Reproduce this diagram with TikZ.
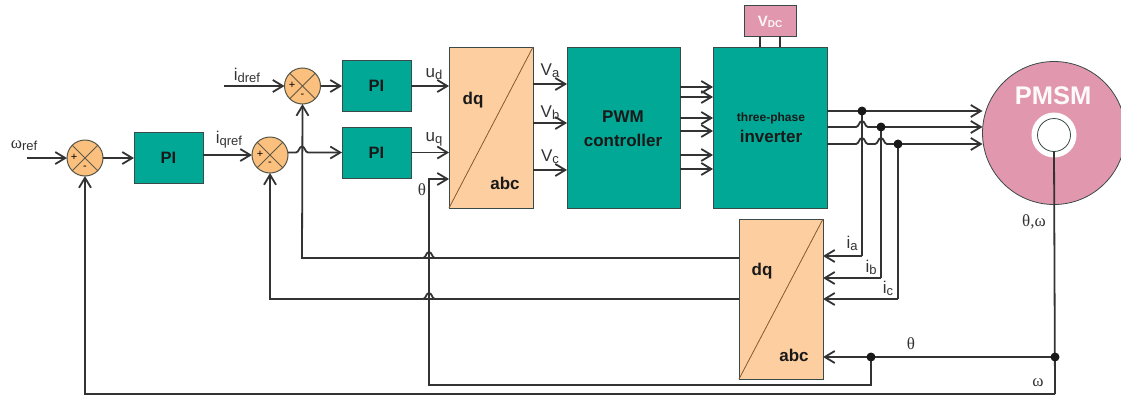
\documentclass[tikz,border=0pt]{standalone}
\usepackage{fontspec}
\setmainfont{Liberation Sans}
\newfontfamily\grk{Liberation Serif}
\usetikzlibrary{arrows.meta}
\definecolor{teal}{HTML}{00A895}
\definecolor{peach}{HTML}{FDCFA0}
\definecolor{sumc}{HTML}{FBBF7E}
\definecolor{rose}{HTML}{E197AE}
\definecolor{ink}{HTML}{333333}
\definecolor{edge}{HTML}{3A4A48}
\newcommand{\lab}[2]{{\fontsize{17}{17}\selectfont #1}\raisebox{-2pt}{\fontsize{13}{13}\selectfont #2}}
\newcommand{\fsz}[1]{\fontsize{#1}{#1}\selectfont}
\newcommand{\jump}[2]{-- ({#1-6},#2) .. controls ({#1-3},#2) and ({#1-3},{#2-6}) .. (#1,{#2-6}) .. controls ({#1+3},{#2-6}) and ({#1+3},#2) .. ({#1+6},#2)}
\tikzset{
  x=1pt,y=-1pt,
  blk/.style={draw=edge,line width=1pt,fill=teal,inner sep=0pt,outer sep=0pt,font=\bfseries\fsz{17},text=black!90,align=center},
  tbox/.style={draw=edge,line width=1pt,fill=peach,inner sep=0pt,outer sep=0pt,minimum width=84pt,minimum height=161pt},
  sumj/.style={circle,draw=edge!80!brown,line width=1pt,fill=sumc,inner sep=0pt,outer sep=0pt,minimum size=36pt,
    path picture={\draw[edge!70!brown,line width=.9pt] (path picture bounding box.north west)--(path picture bounding box.south east)
      (path picture bounding box.north east)--(path picture bounding box.south west);}},
  sgn/.style={inner sep=0pt,font=\fsz{11},text=black},
  txt/.style={inner sep=0pt,text=ink,align=center},
  bt/.style={inner sep=0pt,font=\bfseries\fsz{17},text=black!90},
  wire/.style={draw=ink,line width=1.8pt},
  arr/.style={wire,-{Straight Barb[length=10pt,width=12pt,line width=1.8pt]}},
  dot/.style={circle,fill=black!90,inner sep=0pt,minimum size=9pt}
}
\begin{document}
\begin{tikzpicture}
\useasboundingbox (0,0) rectangle (1121,399);
% blocks
\node[sumj] (s1) at (85,158) {};
\node[sumj] (sq) at (270,155) {};
\node[sumj] (sd) at (302.5,86) {};
\node[blk,minimum width=69pt,minimum height=51pt] (pi1) at (168.5,157.5) {\fsz{16.5}PI};
\node[blk,minimum width=69pt,minimum height=51pt] (pid) at (376.5,86) {\fsz{16.5}PI};
\node[blk,minimum width=69pt,minimum height=51pt] (piq) at (376.5,152.5) {\fsz{16.5}PI};
\node[tbox] (t1) at (491,127.5) {};
\node[blk,minimum width=113pt,minimum height=161pt] (pwm) at (623.5,127.5) {};
\node[blk,minimum width=114pt,minimum height=161pt] (inv) at (770,127.5) {};
\node[blk,fill=rose,minimum width=52pt,minimum height=31pt] (vdc) at (770,20.5) {};
\node[tbox,minimum height=160pt] (t2) at (781,299) {};
\node[circle,draw=edge,line width=.8pt,fill=rose,inner sep=0pt,outer sep=0pt,minimum size=143pt] (pmsm) at (1054,133) {};
\node[circle,fill=white,inner sep=0pt,outer sep=0pt,minimum size=45pt] (ring) at (1054,135) {};
\node[circle,draw=edge,line width=.8pt,fill=white,inner sep=0pt,minimum size=33pt] (hub) at (1054,135) {};
% diagonals
\draw[draw=brown!70!black,line width=.8pt] (t1.south west) -- (t1.north east);
\draw[draw=brown!70!black,line width=.8pt] (t2.south west) -- (t2.north east);
% signs
\node[sgn] (p1) at (74,157) {+};
\node[sgn] (m1) at (85,168) {-};
\node[sgn] (p2) at (260,154) {+};
\node[sgn] (m2) at (270,164) {-};
\node[sgn] (p3) at (292,85) {+};
\node[sgn] (m3) at (302.5,96) {-};
% coordinates
\coordinate (wstart) at (27,158);
\coordinate (dstart) at (224,86);
\coordinate (j1) at (862,111);
\coordinate (j2) at (881,127);
\coordinate (j3) at (898,144);
\coordinate (ja) at (862,256);
\coordinate (jb) at (881,278);
\coordinate (jc) at (898,299);
\coordinate (jm) at (1055,357);
\coordinate (jt) at (871,357);
\coordinate (jt2) at (871,385);
\coordinate (tl) at (429,385);
\coordinate (tu) at (429,179);
\coordinate (om) at (1055,394);
\coordinate (oml) at (85,394);
\coordinate (dl) at (302,258);
\coordinate (ql) at (270,299);
% forward path
\draw[arr] (wstart) -- (s1.west);
\draw[arr] (s1.east) -- (pi1.west |- s1.east);
\draw[arr] (pi1.east |- sq.west) -- (sq.west);
\draw[arr] (dstart) -- (sd.west);
\draw[arr] (sd.east) -- (pid.west);
\draw[arr] (sq.east |- piq.west) \jump{302}{152.5} -- (piq.west);
\draw[arr] (pid.east) -- (t1.west |- pid.east);
\draw[arr] (piq.east) -- (t1.west |- piq.east);
\foreach \yy in {84,123,170}{\draw[arr] (t1.east |- 0,\yy) -- (pwm.west |- 0,\yy);}
\foreach \yy in {87,97,118,131,155,169}{\draw[arr] (pwm.east |- 0,\yy) -- (inv.west |- 0,\yy);}
\foreach \xx in {760,780}{\draw[wire] (vdc.south -| \xx,0) -- (inv.north -| \xx,0);}
% inverter to motor
\draw[arr] (inv.east |- j1) -- (pmsm.west |- j1);
\draw[arr] (inv.east |- j2) \jump{862}{127} -- (pmsm.west |- j2);
\draw[arr] (inv.east |- j3) \jump{862}{144} \jump{881}{144} -- (pmsm.west |- j3);
% current sensing
\draw[wire] (j1) -- (ja);
\draw[wire] (j2) -- (jb);
\draw[wire] (j3) -- (jc);
\draw[arr] (ja) -- (t2.east |- ja);
\draw[arr] (jb) -- (t2.east |- jb);
\draw[arr] (jc) -- (t2.east |- jc);
\node[dot] (d1) at (j1) {};
\node[dot] (d2) at (j2) {};
\node[dot] (d3) at (j3) {};
% feedback
\draw[wire] (hub.south) -- (om);
\draw[arr] (jm) -- (t2.east |- jm);
\draw[arr] (jt) -- (jt2) -- (tl) -- (tu) -- (t1.west |- tu);
\draw[arr] (om) -- (oml) -- (s1.south);
\draw[arr] (t2.west |- dl) \jump{429}{258} -- (dl) -- (sd.south);
\draw[arr] (t2.west |- ql) \jump{429}{299} -- (ql) -- (sq.south);
\node[dot] (d4) at (jt) {};
\node[dot] (d5) at (jm) {};
% labels
\node[txt] (lw) at (24,146) {{\grk\fsz{17}ω}\raisebox{-2pt}{\fsz{13}ref}};
\node[txt] (lid) at (247,75) {\lab{i}{dref}};
\node[txt] (liq) at (229,140) {\lab{i}{qref}};
\node[txt] (lud) at (434,74) {\lab{u}{d}};
\node[txt] (luq) at (434,139) {\lab{u}{q}};
\node[txt] (lth) at (422,190) {\grk\fsz{17}θ};
\node[txt] (lva) at (550,71) {\lab{V}{a}};
\node[txt] (lvb) at (550,113) {\lab{V}{b}};
\node[txt] (lvc) at (550,157) {\lab{V}{c}};
\node[txt,text=white!92!rose,font=\bfseries] (lvdc) at (770,22) {{\fsz{15}V}\raisebox{-1pt}{\fsz{10}DC}};
\node[bt] (lpwm) at (623,117) {PWM};
\node[bt] (lctl) at (623,140) {controller};
\node[bt,font=\bfseries\fsz{12}] (ltp) at (771,118) {three-phase};
\node[bt] (linv) at (771,136) {inverter};
\node[bt] (ldq1) at (473,100) {dq};
\node[bt] (labc1) at (505,183) {abc};
\node[bt] (ldq2) at (762,271) {dq};
\node[bt] (labc2) at (794,355) {abc};
\node[txt] (lia) at (852,243) {\lab{i}{a}};
\node[txt] (lib) at (871,267) {\lab{i}{b}};
\node[txt] (lic) at (888,288) {\lab{i}{c}};
\node[txt] (ltw) at (1034,222) {\grk\fsz{17}θ,ω};
\node[txt] (lt2) at (911,344) {\grk\fsz{17}θ};
\node[txt] (lw2) at (1038,383) {\grk\fsz{17}ω};
\node[inner sep=0pt,text=white!95!rose,font=\bfseries\fsz{25.5}] (lpm) at (1053,96) {PMSM};
\end{tikzpicture}
\end{document}
